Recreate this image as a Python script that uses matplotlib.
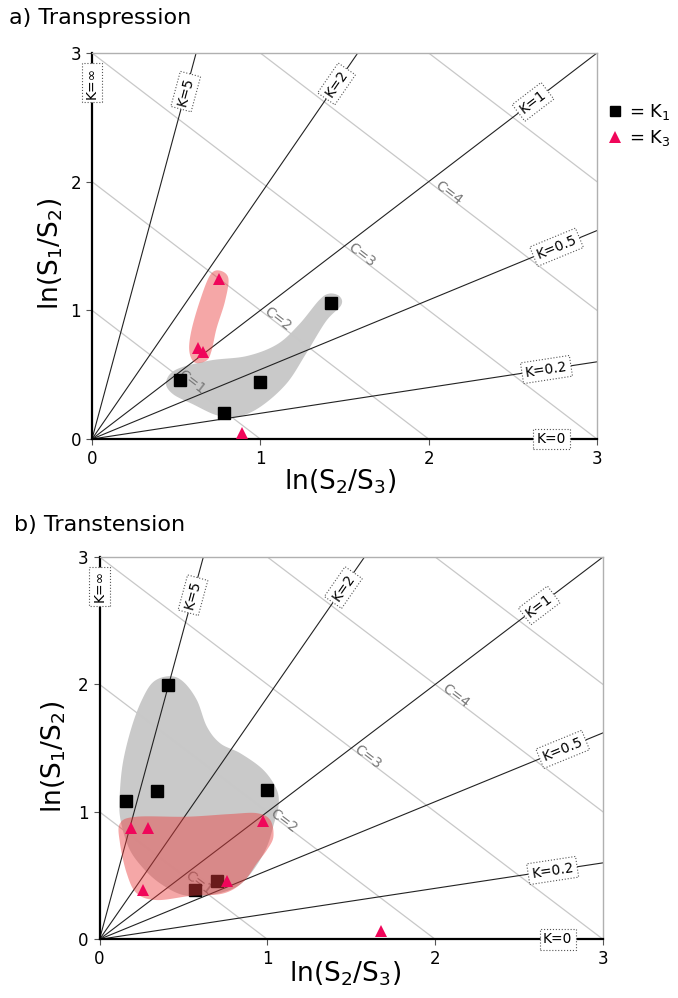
import numpy as np
import matplotlib
matplotlib.use("Agg")
import matplotlib.pyplot as plt
from matplotlib.lines import Line2D

# ── data ─────────────────────────────────────────────────────────────────────
K_NAMES  = ["K=0", "K=0.2", "K=0.5", "K=1", "K=2", "K=5", "K=\u221e"]
K_SLOPES = [0.0, 0.2, 0.54, 1.0, 1.9, 4.85, np.inf]
# label anchor: x for shallow lines, y for steep ones
K_LAB_X  = [2.73, 2.70, 2.76, 2.62, None, None, 0.0]
K_LAB_Y  = [None, None, None, None, 2.76, 2.70, 2.77]

C_VALUES = [1, 2, 3, 4, 5]
C_LAB_X  = [0.59, 1.10, 1.60, 2.12]     # C=5 is not labelled

# a) Transpression
a_k1_x = [0.52, 1.00, 0.785, 1.42]
a_k1_y = [0.46, 0.44, 0.20, 1.06]
a_k3_x = [0.756, 0.627, 0.66, 0.892]
a_k3_y = [1.24, 0.71, 0.68, 0.05]
a_grey_x = [0.44, 0.50, 0.70, 0.92, 1.10, 1.23, 1.35, 1.41, 1.47, 1.48, 1.39,
            1.27, 1.155, 1.00, 0.86, 0.74, 0.60, 0.48]
a_grey_y = [0.44, 0.54, 0.61, 0.645, 0.736, 0.89, 1.08, 1.13, 1.11, 1.04, 0.915,
            0.66, 0.43, 0.25, 0.17, 0.185, 0.27, 0.35]
a_red_x = [0.755, 0.81, 0.79, 0.74, 0.71, 0.68, 0.61, 0.578, 0.59, 0.64, 0.70]
a_red_y = [1.31, 1.25, 1.07, 0.86, 0.685, 0.61, 0.595, 0.685, 0.84, 1.07, 1.27]

# b) Transtension
b_k1_x = [0.41, 0.16, 0.34, 1.00, 0.57, 0.70]
b_k1_y = [1.995, 1.085, 1.163, 1.17, 0.387, 0.46]
b_k3_x = [0.19, 0.29, 0.26, 0.76, 0.977, 1.68]
b_k3_y = [0.87, 0.875, 0.387, 0.457, 0.928, 0.065]
b_grey_x = [0.42, 0.50, 0.58, 0.64, 0.72, 0.84, 0.977, 1.057, 1.066, 1.04,
            0.997, 0.917, 0.818, 0.659, 0.50, 0.361, 0.252, 0.172, 0.122,
            0.122, 0.142, 0.192, 0.252, 0.321]
b_grey_y = [2.065, 2.02, 1.877, 1.668, 1.537, 1.459, 1.328, 1.171, 1.04, 0.91,
            0.726, 0.544, 0.413, 0.347, 0.347, 0.439, 0.57, 0.726, 0.962,
            1.171, 1.406, 1.668, 1.877, 2.02]
b_red_x = [0.122, 0.222, 0.52, 0.778, 0.937, 1.017, 1.036, 0.997, 0.937, 0.857,
           0.738, 0.54, 0.341, 0.222, 0.162, 0.122]
b_red_y = [0.91, 0.962, 0.962, 0.983, 0.99, 0.936, 0.805, 0.70, 0.596, 0.452,
           0.36, 0.34, 0.308, 0.36, 0.518, 0.753]

GREY = "#c9c9c9"
RED = "#eb3c3c"
PINK = "#f0065a"


def smooth_closed(xs, ys, n=16):
    """closed Catmull-Rom curve through the outline points"""
    p = np.column_stack([xs, ys])
    m = len(p)
    out = []
    for i in range(m):
        p0, p1, p2, p3 = p[i - 1], p[i], p[(i + 1) % m], p[(i + 2) % m]
        for t in np.linspace(0, 1, n, endpoint=False):
            t2, t3 = t * t, t * t * t
            out.append(0.5 * ((2 * p1) + (-p0 + p2) * t
                              + (2 * p0 - 5 * p1 + 4 * p2 - p3) * t2
                              + (-p0 + 3 * p1 - 3 * p2 + p3) * t3))
    out = np.array(out)
    return out[:, 0], out[:, 1]


def flinn(ax, k1x, k1y, k3x, k3y, gx, gy, rx, ry, red_alpha):
    ax.set_xlim(0, 3)
    ax.set_ylim(0, 3)

    sx, sy = smooth_closed(gx, gy)
    ax.fill(sx, sy, color=GREY, lw=0, zorder=0.5)

    for c in C_VALUES:
        ax.axline((0, c), slope=-1, color="#c8c8c8", lw=0.9, zorder=1)
    for c, x in zip(C_VALUES, C_LAB_X):
        ax.text(x, c - x + 0.03, f"C={c}", color="#777777", fontsize=10,
                rotation=-45, transform_rotates_text=True,
                rotation_mode="anchor", ha="center", va="center", zorder=3)

    for name, s, lx, ly in zip(K_NAMES, K_SLOPES, K_LAB_X, K_LAB_Y):
        if np.isinf(s):
            ang = 90
        else:
            ax.axline((0, 0), slope=s, color="#222222", lw=0.8, zorder=2)
            ang = np.degrees(np.arctan(s))
        if lx is None:
            lx = ly / s
        if ly is None:
            ly = lx * s
        ax.text(lx, ly, name, fontsize=10, rotation=ang,
                transform_rotates_text=True, rotation_mode="anchor",
                ha="center", va="center", zorder=6,
                bbox=dict(boxstyle="square,pad=0.25", fc="white",
                          ec="#555555", ls=":", lw=0.8))

    ax.plot(k1x, k1y, "s", color="black", ms=9, ls="none", zorder=4)
    rxs, rys = smooth_closed(rx, ry)
    ax.fill(rxs, rys, color=RED, alpha=red_alpha, lw=0, zorder=4.5)
    ax.plot(k3x, k3y, "^", color=PINK, ms=9, mew=0, ls="none", zorder=5)

    for side in ("top", "right"):
        ax.spines[side].set_color("#b0b0b0")
        ax.spines[side].set_linewidth(1.0)
    for side in ("left", "bottom"):
        ax.spines[side].set_color("black")
        ax.spines[side].set_linewidth(1.6)
    ax.set_xticks([0, 1, 2, 3])
    ax.set_yticks([0, 1, 2, 3])
    ax.tick_params(labelsize=12, length=4, width=0.8, color="#555555", pad=4)
    ax.set_xlabel(r"$\mathregular{ln(S_2/S_3)}$", fontsize=19)
    ax.set_ylabel(r"$\mathregular{ln(S_1/S_2)}$", fontsize=19)


fig = plt.figure(figsize=(6.78, 9.98), dpi=100)
ax1 = fig.add_axes([0.1357, 0.5601, 0.7448, 0.3868])
ax2 = fig.add_axes([0.1468, 0.0588, 0.7426, 0.3831])

flinn(ax1, a_k1_x, a_k1_y, a_k3_x, a_k3_y, a_grey_x, a_grey_y,
      a_red_x, a_red_y, 0.45)
flinn(ax2, b_k1_x, b_k1_y, b_k3_x, b_k3_y, b_grey_x, b_grey_y,
      b_red_x, b_red_y, 0.45)

ax1.xaxis.set_label_coords(0.491, -0.075)
ax1.yaxis.set_label_coords(-0.053, 0.479)
ax2.xaxis.set_label_coords(0.488, -0.052)
ax2.yaxis.set_label_coords(-0.063, 0.477)

fig.text(0.014, 0.982, "a) Transpression", fontsize=16, va="center")
fig.text(0.02, 0.474, "b) Transtension", fontsize=16, va="center")

handles = [Line2D([], [], marker="s", color="black", ms=7, ls="none"),
           Line2D([], [], marker="^", color=PINK, ms=8, mew=0, ls="none")]
ax1.legend(handles, [r"= $\mathregular{K_1}$", r"= $\mathregular{K_3}$"],
           loc="upper left", bbox_to_anchor=(1.0, 0.9), frameon=False,
           fontsize=13, handlelength=0.8, handletextpad=0.4,
           labelspacing=0.3, borderaxespad=0.2)

fig.savefig("out.png", dpi=100)
